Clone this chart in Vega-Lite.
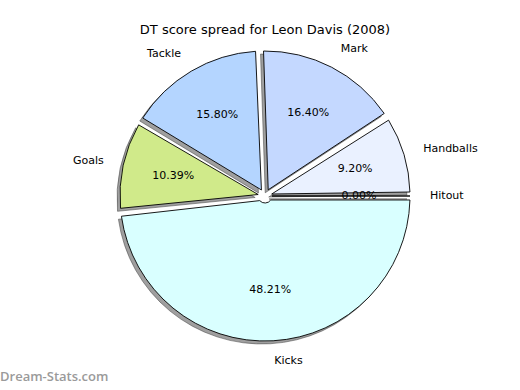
{
  "$schema": "https://vega.github.io/schema/vega-lite/v6.json",
  "padding": {"left": 0, "top": 24, "right": 0, "bottom": 0},
  "background": "white",
  "title": {"text": "DT score spread for Leon Davis (2008)", "anchor": "middle", "font": "DejaVu Sans", "fontSize": 13, "fontWeight": "normal", "color": "#000000", "offset": 2},
  "config": {"view": {"stroke": null}},
  "vconcat": [
    {
      "width": 530,
      "height": 314,
      "title": {"text": "Dream-Stats.com", "orient": "bottom", "anchor": "start", "frame": "group", "font": "Open Sans", "fontSize": 13, "fontWeight": 600, "color": "#9a9a9a", "offset": 5},
      "data": {"values": [
        {"name": "Handballs", "pct": 9.20, "label": "9.20%", "n": 1},
        {"name": "Mark", "pct": 16.40, "label": "16.40%", "n": 2},
        {"name": "Tackle", "pct": 15.80, "label": "15.80%", "n": 3},
        {"name": "Goals", "pct": 10.39, "label": "10.39%", "n": 4},
        {"name": "Kicks", "pct": 48.21, "label": "48.21%", "n": 5},
        {"name": "Hitout", "pct": 0.0, "label": "0.00%", "n": 6}
      ]},
      "encoding": {
        "theta": {"field": "pct", "type": "quantitative", "stack": true, "scale": {"range": [1.5707963, -4.712389]}},
        "order": {"field": "n", "type": "quantitative"}
      },
      "layer": [
        {
          "mark": {"type": "arc", "outerRadius": 145, "innerRadius": 7, "padAngle": 0.055, "fill": "#404040", "fillOpacity": 0.5, "stroke": "#404040", "strokeOpacity": 0.5, "strokeWidth": 1, "xOffset": -3, "yOffset": 3}
        },
        {
          "mark": {"type": "arc", "outerRadius": 145, "innerRadius": 7, "padAngle": 0.055, "stroke": "#000000", "strokeWidth": 0.9},
          "encoding": {
            "color": {"field": "name", "type": "nominal", "legend": null, "scale": {"domain": ["Handballs", "Mark", "Tackle", "Goals", "Kicks", "Hitout"], "range": ["#eaf1ff", "#c4d8ff", "#b4d5ff", "#d0ea8a", "#d9ffff", "#ffffff"]}}
          }
        },
        {
          "mark": {"type": "text", "radius": 165, "font": "DejaVu Sans", "fontSize": 11, "color": "#000000", "baseline": "middle", "align": {"expr": "datum.name == 'Tackle' || datum.name == 'Goals' ? 'right' : 'left'"}},
          "encoding": {"text": {"field": "name", "type": "nominal"}}
        },
        {
          "mark": {"type": "text", "radius": 94, "font": "DejaVu Sans", "fontSize": 11, "color": "#000000", "baseline": "middle", "align": "center"},
          "encoding": {"text": {"field": "label", "type": "nominal"}}
        }
      ]
    }
  ]
}
